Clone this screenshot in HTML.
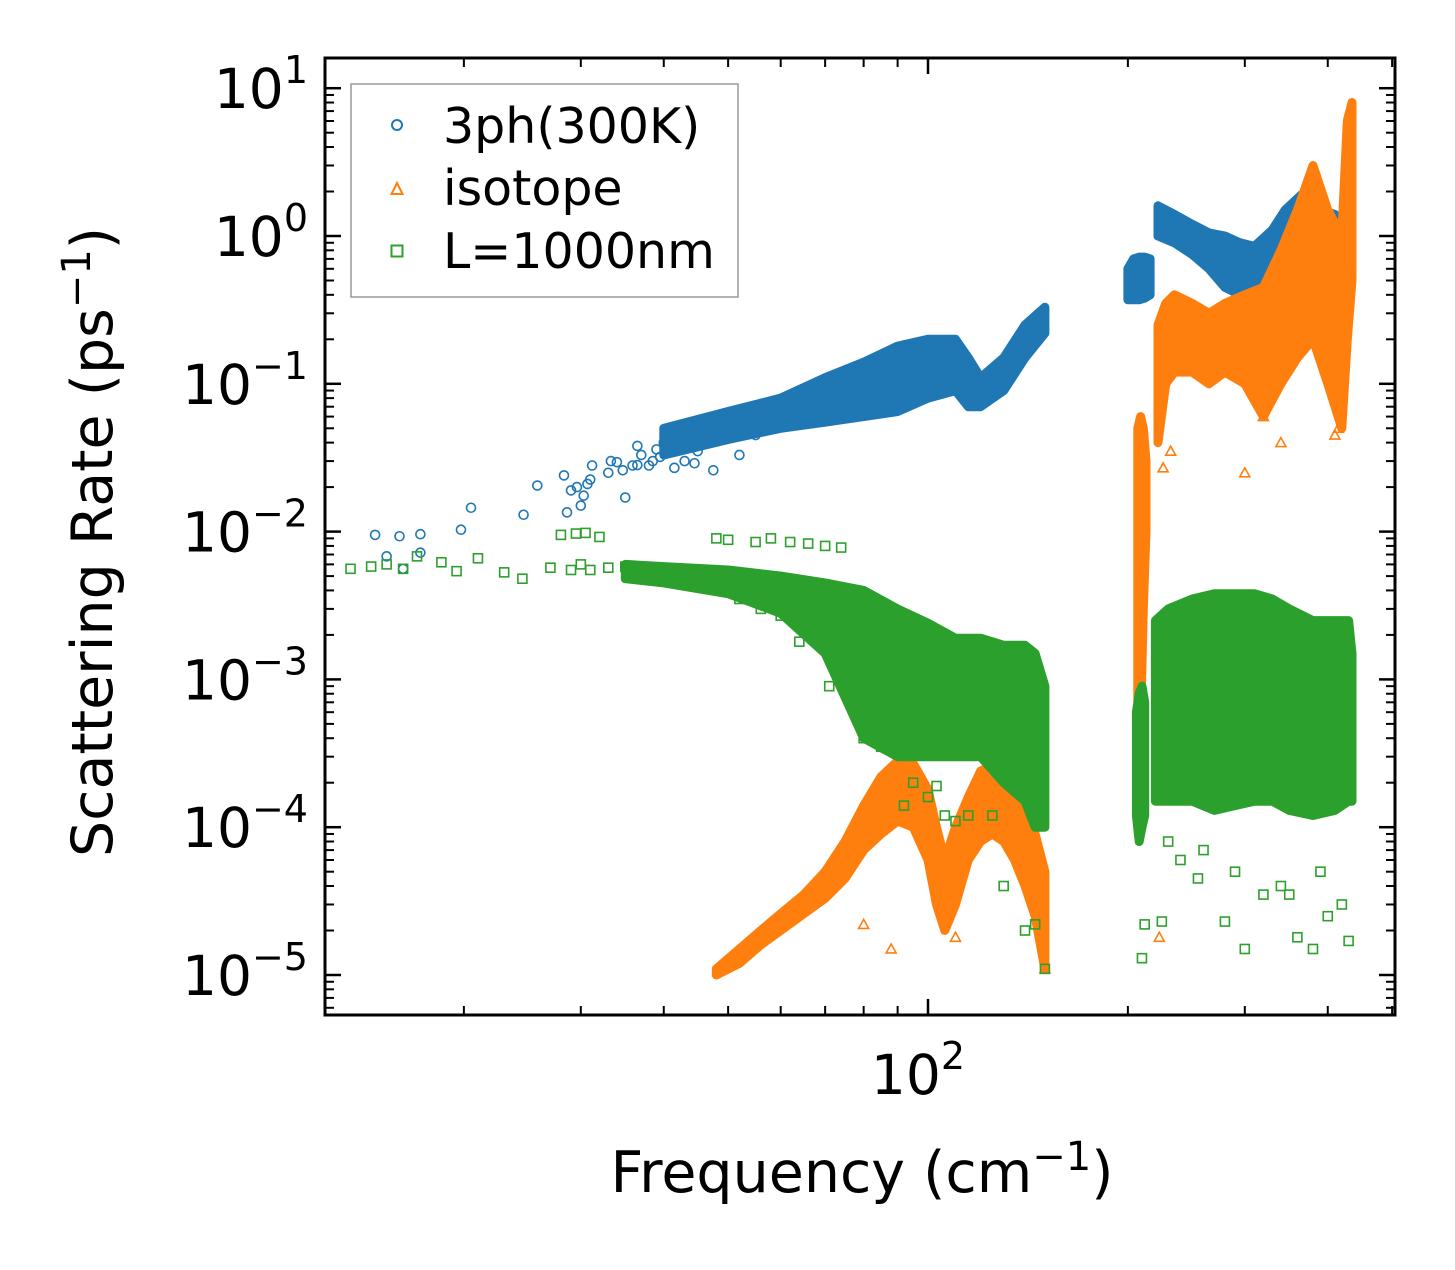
<!DOCTYPE html>
<html><head><meta charset="utf-8">
<style>
html,body{margin:0;padding:0;background:#fff;}
svg text{font-family:"DejaVu Sans","Liberation Sans",sans-serif;fill:#000;}
</style></head>
<body>
<svg id="chart" width="1455" height="1265" viewBox="0 0 1455 1265" xmlns="http://www.w3.org/2000/svg">
<rect width="1455" height="1265" fill="#fff"/>
<g id="plot"></g>
<g id="axes"></g>
<text transform="translate(112,542) rotate(-90)" text-anchor="middle" font-size="57">Scattering Rate (ps<tspan dy="-22" font-size="40">−1</tspan><tspan dy="22">)</tspan></text>
<text x="862" y="1192" text-anchor="middle" font-size="57">Frequency (cm<tspan dy="-22" font-size="40">−1</tspan><tspan dy="22">)</tspan></text>
<g>
<rect x="351" y="84" width="387" height="213" fill="#fff" stroke="#999" stroke-width="1.5"/>
<circle cx="397" cy="125" r="5" fill="none" stroke="#1f77b4" stroke-width="2"/>
<text x="443" y="143" font-size="49">3ph(300K)</text>
<polygon points="397,183 391.5,194 402.5,194" fill="none" stroke="#ff7f0e" stroke-width="2"/>
<text x="443" y="205" font-size="49">isotope</text>
<rect x="391.5" y="245.5" width="11" height="11" fill="none" stroke="#2ca02c" stroke-width="2"/>
<text x="443" y="268" font-size="49">L=1000nm</text>
</g>
</svg>
<script>
// ---- data (frequency cm^-1, scattering rate ps^-1) ----
const blueSparseX=[14.7,15.3,16.0,16.2,17.2,17.2,19.8,20.5,24.6,25.8,28.3,28.6,29,29.6,30,30.3,30.7,31.2,31,33,33.3,34,34.7,35,35.9,36.5,38,38.5,39.5,41,43,45,47,47.5,50,52,55,37,39,40,42,44,46,48,36.5,41.5,44.5,49,53];
const blueSparseY=[0.0095,0.0068,0.0093,0.0056,0.0096,0.0072,0.0103,0.0145,0.013,0.0205,0.024,0.0135,0.019,0.020,0.015,0.0175,0.021,0.028,0.0225,0.025,0.030,0.0295,0.026,0.017,0.028,0.0282,0.028,0.030,0.032,0.037,0.030,0.035,0.040,0.026,0.045,0.033,0.045,0.033,0.036,0.04,0.042,0.046,0.052,0.05,0.038,0.027,0.029,0.062,0.06];
const blueBand1X=[40,50,60,70,80,90,100,110,115,120,130,140,150];
const blueBand1Lo=[0.033,0.042,0.05,0.055,0.06,0.065,0.08,0.09,0.07,0.07,0.09,0.15,0.22];
const blueBand1Hi=[0.05,0.065,0.08,0.11,0.14,0.18,0.2,0.2,0.15,0.11,0.15,0.25,0.33];
const blueBand2X=[200,204,208,212,216];
const blueBand2Lo=[0.37,0.37,0.37,0.38,0.4];
const blueBand2Hi=[0.6,0.7,0.72,0.72,0.7];
const blueBand3X=[222,235,250,265,280,295,310,330,345,365,390,410,430];
const blueBand3Lo=[1.0,0.9,0.75,0.6,0.45,0.4,0.45,0.55,0.7,0.6,0.5,0.6,0.7];
const blueBand3Hi=[1.6,1.4,1.2,1.05,1.0,0.9,0.85,1.1,1.5,1.9,1.5,1.4,1.0];

const orBand1X=[48,52,56,60,65,70,75,80,85,90,95,100,103,106,110,115,120,125,130,135,140,145,150];
const orBand1Lo=[1e-5,1.2e-5,1.6e-5,2e-5,2.6e-5,3.3e-5,4.5e-5,7e-5,9e-5,1.1e-4,1.0e-4,6e-5,3e-5,2e-5,3e-5,6e-5,8e-5,9e-5,8e-5,6e-5,4e-5,2.5e-5,1.1e-5];
const orBand1Hi=[1.1e-5,1.5e-5,2e-5,2.6e-5,3.5e-5,5e-5,8e-5,1.4e-4,2.2e-4,2.8e-4,2.7e-4,1.8e-4,1e-4,6e-5,1e-4,1.6e-4,2.4e-4,2.6e-4,2.4e-4,2.0e-4,1.5e-4,9e-5,5e-5];
const orBand2X=[207,209,211,213];
const orBand2Lo=[7e-4,5e-4,3e-3,1e-2];
const orBand2Hi=[0.05,0.06,0.05,0.03];
const orBand3X=[222,228,235,250,265,280,300,320,340,360,380,400,420,428,435];
const orBand3Lo=[0.04,0.1,0.12,0.12,0.1,0.12,0.1,0.06,0.1,0.15,0.2,0.1,0.05,0.2,0.5];
const orBand3Hi=[0.25,0.35,0.4,0.35,0.3,0.35,0.4,0.45,0.8,1.5,3,1.5,1,6,8];
const orSparseX=[80,88,110,150,223,226,232,300,320,340,410,415];
const orSparseY=[2.2e-5,1.5e-5,1.8e-5,1.1e-5,1.8e-5,0.027,0.035,0.025,0.06,0.04,0.045,0.05];

const grSparseX=[13.5,14.5,15.3,16.2,17,18.5,19.5,21,23,24.5,27,29,30,31,33,35,36,38,40,43,45,28,29.5,30.5,32,48,50,55,58,62,66,70,74,60,63,68,71,76,80,85,88,92,95,100,103,106,110,115,125,130,140,145,150,52,56,64,72,78,82];
const grSparseY=[0.0056,0.0058,0.006,0.0056,0.0068,0.0062,0.0054,0.0066,0.0053,0.0048,0.0057,0.0055,0.006,0.0055,0.0057,0.0058,0.0053,0.0052,0.0055,0.0054,0.0052,0.0095,0.0097,0.0098,0.0092,0.009,0.0088,0.0085,0.009,0.0085,0.0083,0.008,0.0078,0.0027,0.0025,0.0022,0.0009,0.00085,0.0004,0.00035,0.0006,0.00014,0.0002,0.00016,0.00019,0.00012,0.00011,0.00012,0.00012,0.00004,0.00002,0.000022,0.000011,0.0035,0.003,0.0018,0.0016,0.0012,0.0006];
const grBand1X=[35,40,50,60,70,80,90,100,110,120,130,140,145,150];
const grBand1Lo=[0.0048,0.0045,0.0038,0.0028,0.0015,4e-4,3e-4,3e-4,3e-4,3e-4,2e-4,1.5e-4,1e-4,1e-4];
const grBand1Hi=[0.006,0.0058,0.0055,0.005,0.0045,0.004,0.003,0.0024,0.0019,0.0019,0.0017,0.0017,0.0015,0.0009];
const grBand2X=[206,208,210,212];
const grBand2Lo=[1.2e-4,8e-5,1e-4,1.2e-4];
const grBand2Hi=[6e-4,8e-4,9e-4,7e-4];
const grBand3X=[220,230,250,270,290,310,330,350,380,410,430,435];
const grBand3Lo=[1.5e-4,1.5e-4,1.5e-4,1.3e-4,1.4e-4,1.5e-4,1.5e-4,1.3e-4,1.2e-4,1.3e-4,1.5e-4,1.5e-4];
const grBand3Hi=[2.5e-3,3e-3,3.5e-3,3.8e-3,3.8e-3,3.8e-3,3.5e-3,3e-3,2.5e-3,2.5e-3,2.5e-3,1.5e-3];
const grSparse2X=[210,212,225,240,255,280,300,320,340,360,380,400,420,430,230,260,290,350,390];
const grSparse2Y=[1.3e-5,2.2e-5,2.3e-5,6e-5,4.5e-5,2.3e-5,1.5e-5,3.5e-5,4e-5,1.8e-5,1.5e-5,2.5e-5,3e-5,1.7e-5,8e-5,7e-5,5e-5,3.5e-5,5e-5];

// ---- axes ----
const X0=325,X1=1395,Y0=58,Y1=1015;
const XD=664,X100=928; const YD=147.8,YONE=236;
function sx(f){return X100+XD*(Math.log10(f)-2);}
function sy(v){return YONE-YD*Math.log10(v);}
const NS='http://www.w3.org/2000/svg';
function mk(tag,attrs,parent){const e=document.createElementNS(NS,tag);for(const k in attrs)e.setAttribute(k,attrs[k]);parent.appendChild(e);return e;}
const plot=document.getElementById('plot');
const axes=document.getElementById('axes');
const C={b:'#1f77b4',o:'#ff7f0e',g:'#2ca02c'};

function band(xs,lo,hi,col,name){
  let pts=[];
  for(let i=0;i<xs.length;i++)pts.push(sx(xs[i]).toFixed(1)+','+sy(hi[i]).toFixed(1));
  for(let i=xs.length-1;i>=0;i--)pts.push(sx(xs[i]).toFixed(1)+','+sy(lo[i]).toFixed(1));
  const p=mk('polygon',{points:pts.join(' '),fill:col,stroke:col,'stroke-width':9,'stroke-linejoin':'round'},plot);
  
  
}
function circles(xs,ys,name){
  for(let i=0;i<xs.length;i++){
    const c=mk('circle',{cx:sx(xs[i]),cy:sy(ys[i]),r:4.5,fill:'none',stroke:C.b,'stroke-width':1.6},plot);
    
    
  }
}
function tris(xs,ys,name){
  for(let i=0;i<xs.length;i++){
    const x=sx(xs[i]),y=sy(ys[i]);
    const t=mk('polygon',{points:`${x},${y-5} ${x-5},${y+4} ${x+5},${y+4}`,fill:'none',stroke:C.o,'stroke-width':1.6},plot);
    
    
  }
}
function squares(xs,ys,name){
  for(let i=0;i<xs.length;i++){
    const s=mk('rect',{x:sx(xs[i])-4.5,y:sy(ys[i])-4.5,width:9,height:9,fill:'none',stroke:C.g,'stroke-width':1.6},plot);
    
    
  }
}
band(blueBand1X,blueBand1Lo,blueBand1Hi,C.b,'3ph-band-low');
band(blueBand2X,blueBand2Lo,blueBand2Hi,C.b,'3ph-band-mid');
band(blueBand3X,blueBand3Lo,blueBand3Hi,C.b,'3ph-band-high');
circles(blueSparseX,blueSparseY,'3ph-point');
band(orBand1X,orBand1Lo,orBand1Hi,C.o,'isotope-band-low');
band(orBand2X,orBand2Lo,orBand2Hi,C.o,'isotope-band-mid');
band(orBand3X,orBand3Lo,orBand3Hi,C.o,'isotope-band-high');
tris(orSparseX,orSparseY,'isotope-point');
band(grBand1X,grBand1Lo,grBand1Hi,C.g,'boundary-band-low');
band(grBand2X,grBand2Lo,grBand2Hi,C.g,'boundary-band-mid');
band(grBand3X,grBand3Lo,grBand3Hi,C.g,'boundary-band-high');
squares(grSparseX,grSparseY,'boundary-point');
squares(grSparse2X,grSparse2Y,'boundary-point');

// frame
const fr=mk('rect',{x:X0,y:Y0,width:X1-X0,height:Y1-Y0,fill:'none',stroke:'#000','stroke-width':3},axes);


// y ticks
const yExps=[1,0,-1,-2,-3,-4,-5];
const yTickLabels=['1','0','−1','−2','−3','−4','−5'];
for(let e=-6;e<=1;e++){
  for(let m=1;m<=9;m++){
    const y=sy(m*Math.pow(10,e));
    if(y<Y0+1||y>Y1-1)continue;
    const L=m===1?16:9;
    const a=mk('line',{x1:X0,x2:X0+L,y1:y,y2:y,stroke:'#000','stroke-width':m===1?2.5:2},axes);
    
    
    const b=mk('line',{x1:X1,x2:X1-L,y1:y,y2:y,stroke:'#000','stroke-width':m===1?2.5:2},axes);
    
    
  }
}
yExps.forEach((e,i)=>{
  const y=sy(Math.pow(10,e));
  const t=mk('text',{x:308,y:y+20,'text-anchor':'end','font-size':55},axes);
  
  
  t.textContent='10';
  const s=mk('tspan',{dy:-25,'font-size':38},t);
  s.textContent=yTickLabels[i];
});
// x ticks
for(let e=1;e<=2;e++){
  for(let m=1;m<=9;m++){
    const f=m*Math.pow(10,e);
    const x=sx(f);
    if(x<X0+1||x>X1-1)continue;
    const L=m===1?16:9;
    const a=mk('line',{x1:x,x2:x,y1:Y1,y2:Y1-L,stroke:'#000','stroke-width':m===1?2.5:2},axes);
    
    
    const b=mk('line',{x1:x,x2:x,y1:Y0,y2:Y0+L,stroke:'#000','stroke-width':m===1?2.5:2},axes);
    
    
  }
}
const xl=mk('text',{x:sx(100)-10,y:1094,'text-anchor':'middle','font-size':55},axes);


xl.textContent='10';
const xs2=mk('tspan',{dy:-25,'font-size':38},xl);
xs2.textContent='2';
</script>
</body></html>
